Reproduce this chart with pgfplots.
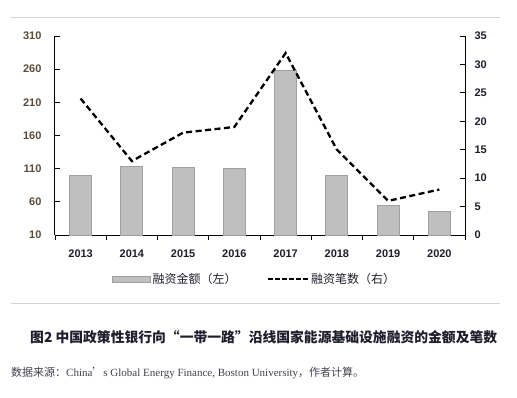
\documentclass[border=0pt]{standalone}
\usepackage{pgfplots}
\pgfplotsset{compat=1.18}
\usepackage{fontspec}
\setmainfont{Liberation Sans}
\newfontfamily\cjk{Noto Sans CJK SC}
\newfontfamily\serif{Liberation Serif}
\definecolor{barfill}{HTML}{BFBFBF}
\definecolor{bardraw}{HTML}{A0A0A0}
\definecolor{leftcol}{HTML}{5A4A3B}
\definecolor{darkcol}{HTML}{1E1E2C}
\definecolor{rulecol}{HTML}{D4D4D4}
\begin{document}
\begin{tikzpicture}
\path[use as bounding box] (0pt,0pt) rectangle (517pt,397pt);
\draw[rulecol, line width=0.9pt] (11pt,380pt) -- (500pt,380pt);
\draw[rulecol, line width=0.9pt] (11pt,94pt) -- (500pt,94pt);
\node[anchor=base west, inner sep=0pt, text=darkcol] at (30pt,55pt) {\cjk\bfseries\fontsize{13.8}{16}\selectfont 图2 中国政策性银行向“一带一路”沿线国家能源基础设施融资的金额及笔数};
\node[anchor=base west, inner sep=0pt, text=darkcol!85] at (11pt,21pt) {\fontsize{11}{13}\selectfont{\cjk 数据来源：}{\serif China}{\cjk ’}{\serif s Global Energy Finance, Boston University}{\cjk ，作者计算。}};
\begin{axis}[
  at={(55pt,162pt)}, anchor=south west, scale only axis,
  width=410pt, height=199pt,
  xmin=-0.5, xmax=7.5, ymin=10, ymax=310,
  ytick={10,60,...,310},
  axis x line*=bottom, axis y line*=left,
  axis line style={-, line width=1pt, black},
  xtick={0,...,7},
  xticklabels={2013,2014,2015,2016,2017,2018,2019,2020},
  minor xtick={-0.5,0.5,...,7.5},
  major x tick style={draw=none},
  tick align=inside,
  major tick length=5pt, minor tick length=5pt,
  tick style={line width=0.9pt, black},
  /pgf/number format/assume math mode=true,
  yticklabel style={font=\fontsize{11}{13}\selectfont\bfseries, text=leftcol},
  xticklabel style={font=\fontsize{11}{13}\selectfont\bfseries, text=darkcol},
  yticklabel shift=10pt,
  xticklabel shift=6pt,
  ybar, bar width=22pt,
  clip=true,
]
\addplot[fill=barfill, draw=bardraw, line width=0.8pt] coordinates {
(0,100) (1,114) (2,112) (3,110) (4,258) (5,100) (6,54) (7,46)};
\end{axis}
\begin{axis}[
  at={(55pt,162pt)}, anchor=south west, scale only axis,
  width=410pt, height=199pt,
  xmin=-0.5, xmax=7.5, ymin=0, ymax=35,
  ytick={0,5,...,35},
  axis y line*=right, axis x line=none,
  axis line style={-, line width=1pt, black},
  tick align=inside, major tick length=5pt,
  tick style={line width=0.9pt, black},
  /pgf/number format/assume math mode=true,
  yticklabel style={font=\fontsize{11}{13}\selectfont\bfseries, text=darkcol},
  yticklabel shift=6pt,
  legend style={at={(0.4866,-0.221)}, anchor=center, draw=none, fill=none,
    font=\cjk\fontsize{12}{14}\selectfont, text=darkcol,
    legend columns=2, /tikz/every even column/.append style={column sep=28pt},
    inner sep=0pt, cells={anchor=west}},
]
\addlegendimage{legend image code/.code={\draw[fill=barfill, draw=bardraw, line width=0.8pt] (0pt,-3pt) rectangle (38pt,3pt);}}
\addlegendentry{融资金额（左）}
\addplot[black, line width=2.3pt, dash pattern=on 6pt off 3.5pt,
  legend image code/.code={\draw[black, line width=2.6pt, dash pattern=on 5pt off 2pt] (0pt,0pt) -- (40pt,0pt);}]
  coordinates {(0,24) (1,13) (2,18) (3,19) (4,32) (5,15) (6,6) (7,8)};
\addlegendentry{融资笔数（右）}
\end{axis}
\end{tikzpicture}
\end{document}
